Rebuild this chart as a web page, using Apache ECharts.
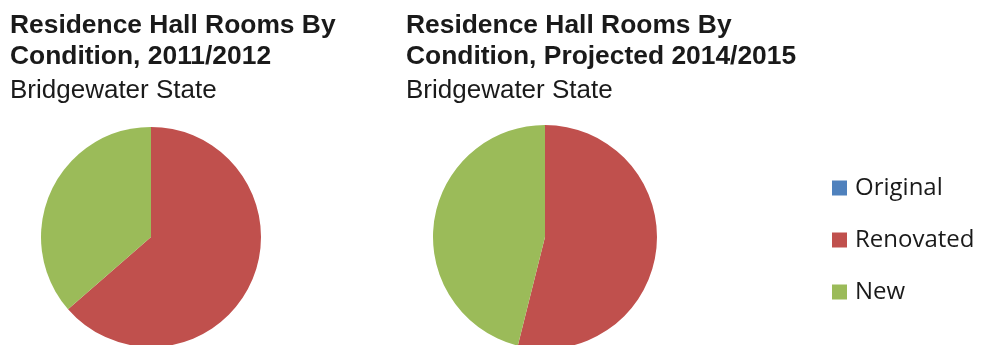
<!DOCTYPE html>
<html>
<head>
<meta charset="utf-8">
<script src="https://cdn.jsdelivr.net/npm/echarts@6/dist/echarts.min.js"></script>
<style>
  html, body { margin: 0; padding: 0; background: #ffffff; }
  #chart { width: 994px; height: 345px; }
</style>
</head>
<body>
<div id="chart"></div>
<script>
// Room condition categories shared by both pies
var categories = ['Original', 'Renovated', 'New'];
// Share of residence hall rooms (%) by condition
var values2011 = [0, 63.6, 36.4];
var values2014 = [0, 53.9, 46.1];
var titles = [
  'Residence Hall Rooms By\nCondition, 2011/2012',
  'Residence Hall Rooms By\nCondition, Projected 2014/2015'
];
var subtitle = 'Bridgewater State';
var colors = ['#4F81BD', '#C0504D', '#9BBB59'];

function toData(vals) {
  return categories.map(function (c, i) { return { name: c, value: vals[i] }; });
}

var chart = echarts.init(document.getElementById('chart'), null, { renderer: 'canvas' });

var titleStyle = {
  fontFamily: '"Liberation Sans", Arial, sans-serif',
  fontWeight: 'bold',
  fontSize: 26.4,
  lineHeight: 31,
  color: '#1a1a1a'
};
var subStyle = {
  fontFamily: '"Liberation Sans", Arial, sans-serif',
  fontSize: 26,
  color: '#1a1a1a'
};

function pieSeries(center, r, vals) {
  return {
    type: 'pie',
    center: center,
    radius: r,
    startAngle: 90,
    clockwise: true,
    label: { show: false },
    labelLine: { show: false },
    itemStyle: { borderWidth: 0 },
    emphasis: { disabled: true },
    data: toData(vals)
  };
}

chart.setOption({
  animation: false,
  color: colors,
  title: [
    { text: titles[0], subtext: subtitle, left: 10, top: 10, padding: 0, itemGap: 6,
      textStyle: titleStyle, subtextStyle: subStyle },
    { text: titles[1], subtext: subtitle, left: 406, top: 10, padding: 0, itemGap: 6,
      textStyle: titleStyle, subtextStyle: subStyle }
  ],
  legend: {
    orient: 'vertical',
    left: 832,
    top: 176,
    padding: 0,
    itemWidth: 15,
    itemHeight: 15,
    itemGap: 28,
    icon: 'rect',
    data: categories,
    textStyle: {
      fontFamily: '"Open Sans", sans-serif',
      fontSize: 24,
      lineHeight: 24,
      color: '#1a1a1a',
      padding: [0, 0, 0, 3]
    }
  },
  series: [
    pieSeries([151, 237], 110, values2011),
    pieSeries([545, 237], 112, values2014)
  ]
});
</script>
</body>
</html>
